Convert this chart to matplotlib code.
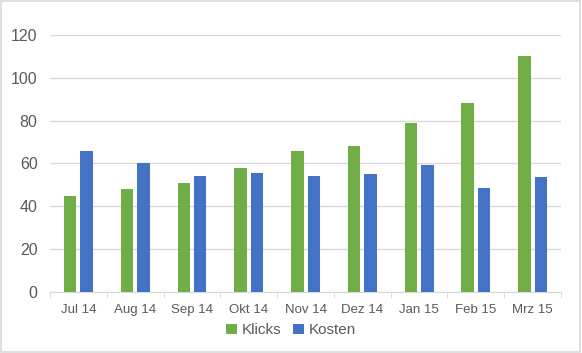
import numpy as np
import matplotlib.pyplot as plt

# Daten
monate = ['Jul 14', 'Aug 14', 'Sep 14', 'Okt 14', 'Nov 14', 'Dez 14', 'Jan 15', 'Feb 15', 'Mrz 15']
klicks = [45, 48, 51, 58, 66, 68, 79, 88, 110]
kosten = [66, 60, 54, 55.6, 54, 55, 59.3, 48.6, 53.7]

plt.rcParams['font.family'] = ['Liberation Sans', 'DejaVu Sans']

fig = plt.figure(figsize=(5.82, 3.53), dpi=100)
ax = fig.add_axes([0.086, 0.173, 0.878, 0.728])

x = np.arange(len(monate))
breite = 0.22
ax.bar(x - 0.145, klicks, breite, color='#70AD47', label='Klicks', zorder=3)
ax.bar(x + 0.145, kosten, breite, color='#4472C4', label='Kosten', zorder=3)

ax.set_xlim(-0.5, len(monate) - 0.5)
ax.set_ylim(0, 120)
ax.set_yticks(range(0, 121, 20))
ax.yaxis.grid(True, color='#d9d9d9', linewidth=1, zorder=0)
ax.tick_params(axis='y', length=0, labelsize=11.5, labelcolor='#595959', pad=9)

ax.set_xticks(x)
ax.set_xticklabels(monate)
ax.set_xticks(np.arange(-0.5, len(monate)), minor=True)
ax.tick_params(axis='x', which='major', length=0, labelsize=9.5, labelcolor='#595959', pad=9)
ax.tick_params(axis='x', which='minor', length=4, color='#d9d9d9', direction='out')

for s in ['top', 'right', 'left']:
    ax.spines[s].set_visible(False)
ax.spines['bottom'].set_color('#d9d9d9')

fig.legend(loc='lower center', bbox_to_anchor=(0.5, 0.005), ncol=2, frameon=False,
           fontsize=11, handlelength=0.7, handleheight=0.7, handletextpad=0.3,
           columnspacing=0.8, labelcolor='#595959')

# Rahmen
fig.patches.append(plt.Rectangle((0.002, 0.003), 0.995, 0.994, transform=fig.transFigure,
                                 fill=False, edgecolor='#d9d9d9', linewidth=1.2))

fig.savefig('out.png', dpi=100)
